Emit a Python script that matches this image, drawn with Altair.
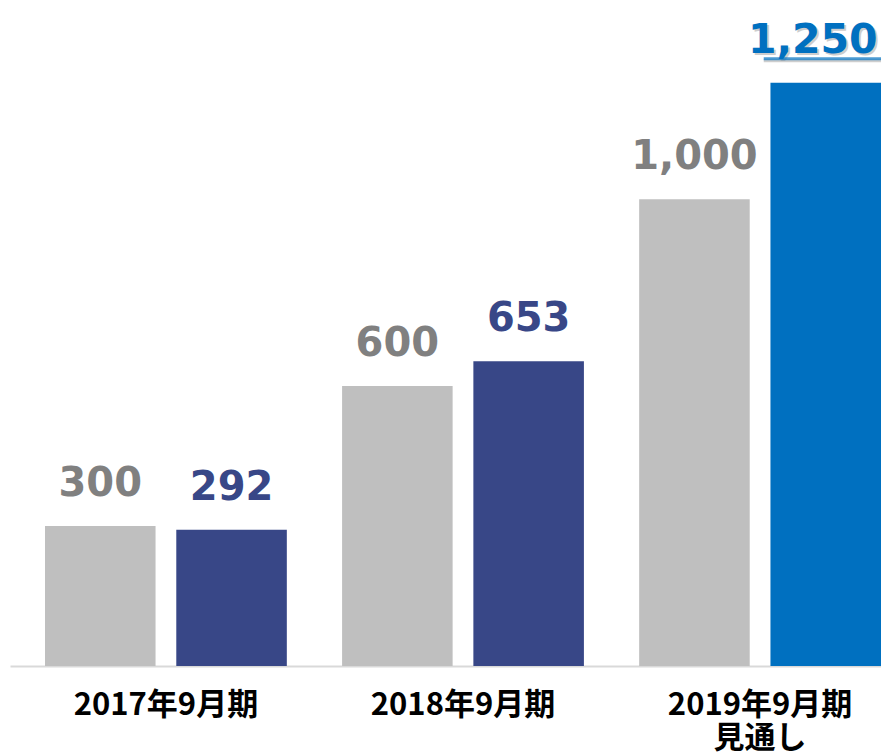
import altair as alt
import pandas as pd

periods = ["2017年9月期", "2018年9月期", "2019年9月期\n見通し"]
plan_values = [300, 600, 1000]
actual_values = [292, 653, 1250]
actual_kinds = ["実績", "実績", "見通し"]

rows = []
for p, v in zip(periods, plan_values):
    rows.append({"period": p, "slot": "a", "kind": "計画", "value": v, "label": f"{v:,}"})
for p, v, k in zip(periods, actual_values, actual_kinds):
    rows.append({"period": p, "slot": "b", "kind": k, "value": v, "label": f"{v:,}"})
df = pd.DataFrame(rows)

kinds = ["計画", "実績", "見通し"]
W, H = 871, 658

x = alt.X(
    "period:N",
    sort=periods,
    scale=alt.Scale(paddingInner=0.186, paddingOuter=0.0589, align=1),
    axis=alt.Axis(
        title=None, labelAngle=0, ticks=False, grid=False,
        domainColor="#D9D9D9", domainWidth=2,
        labelFont="Noto Sans CJK JP", labelFontWeight="bold", labelFontSize=31,
        labelColor="#000000", labelPadding=24, labelLimit=500,
        labelExpr="split(datum.label, '\\n')", labelLineHeight=33,
    ),
)
xo = alt.XOffset("slot:N", scale=alt.Scale(paddingInner=0.158, paddingOuter=0))
y = alt.Y("value:Q", scale=alt.Scale(domain=[0, 1410], nice=False), axis=None)

base = alt.Chart(df).encode(x=x, xOffset=xo, y=y)

bars = base.mark_bar().encode(
    color=alt.Color("kind:N", scale=alt.Scale(domain=kinds, range=["#BFBFBF", "#384787", "#0070C0"]), legend=None)
)

hl = alt.datum.kind == "見通し"
normal = alt.datum.kind != "見通し"

labels = base.transform_filter(normal).mark_text(
    font="DejaVu Sans", fontWeight="bold", fontSize=40, baseline="alphabetic", dy=-30,
).encode(
    text="label:N",
    color=alt.Color("kind:N", scale=alt.Scale(domain=kinds, range=["#808080", "#384787", "#0070C0"]), legend=None),
)

shadow = base.transform_filter(hl).mark_text(
    font="DejaVu Sans", fontWeight="bold", fontSize=41, baseline="alphabetic",
    dx=-11, dy=-28, color="#A6A6A6", opacity=0.55,
).encode(text="label:N")

shadow_line = base.transform_filter(hl).mark_tick(
    orient="horizontal", size=124, thickness=3, yOffset=-22, xOffset=-11, color="#A6A6A6", opacity=0.55
)

hl_label = base.transform_filter(hl).mark_text(
    font="DejaVu Sans", fontWeight="bold", fontSize=41, baseline="alphabetic",
    dx=-13, dy=-30, color="#0070C0",
).encode(text="label:N")

underline = base.transform_filter(hl).mark_tick(
    orient="horizontal", size=124, thickness=3, yOffset=-24, xOffset=-13, color="#0070C0"
)

chart = alt.layer(bars, labels, shadow, shadow_line, hl_label, underline).resolve_scale(
    color="independent"
).properties(
    width=W, height=H,
    autosize=alt.AutoSizeParams(type="none"),
    padding={"left": 2, "top": 0, "right": 0, "bottom": 88},
).configure_view(stroke=None)

chart.save("out.html", embed_options={"renderer": "svg", "actions": False})
